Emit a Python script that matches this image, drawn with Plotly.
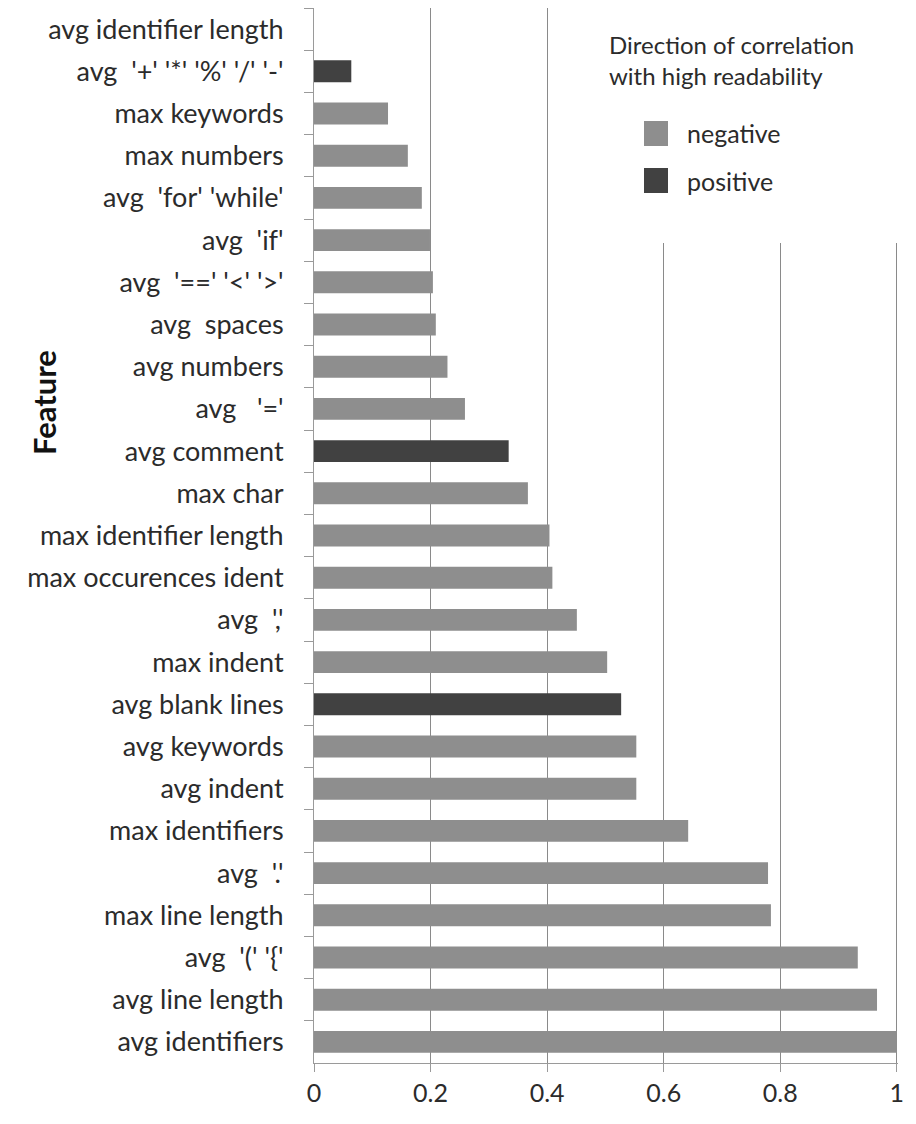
import plotly.graph_objects as go

features = [
    "avg identifier length",
    "avg\u00a0\u00a0'+' '*' '%' '/' '-'",
    "max keywords",
    "max numbers",
    "avg\u00a0\u00a0'for' 'while'",
    "avg\u00a0\u00a0'if'",
    "avg\u00a0\u00a0'==' '<' '>'",
    "avg\u00a0\u00a0spaces",
    "avg numbers",
    "avg\u00a0\u00a0\u00a0'='",
    "avg comment",
    "max char",
    "max identifier length",
    "max occurences ident",
    "avg\u00a0\u00a0','",
    "max indent",
    "avg blank lines",
    "avg keywords",
    "avg indent",
    "max identifiers",
    "avg\u00a0\u00a0'.'",
    "max line length",
    "avg\u00a0\u00a0'(' '{'",
    "avg line length",
    "avg identifiers",
]
values = [0.0, 0.064, 0.127, 0.161, 0.185, 0.199, 0.204, 0.209, 0.229, 0.259,
          0.334, 0.367, 0.404, 0.409, 0.451, 0.503, 0.527, 0.553, 0.553, 0.642,
          0.779, 0.784, 0.933, 0.966, 1.0]
direction = ["negative", "positive", "negative", "negative", "negative", "negative",
             "negative", "negative", "negative", "negative", "positive", "negative",
             "negative", "negative", "negative", "negative", "positive", "negative",
             "negative", "negative", "negative", "negative", "negative", "negative",
             "negative"]
x_ticks = [0, 0.2, 0.4, 0.6, 0.8, 1]
x_ticktext = ["0", "0.2", "0.4", "0.6", "0.8", "1"]

colors = {"negative": "#8e8e8e", "positive": "#414141"}
FONT = "Lato"
TXT = "#2b2b2b"

fig = go.Figure()
fig.add_trace(go.Bar(
    y=features, x=values, orientation="h",
    marker=dict(color=[colors[d] for d in direction], line=dict(width=0)),
    showlegend=False, hoverinfo="x+y",
))

# page has an 8px body margin; figure coordinates are page coordinates minus 8
OFF = 8
W, H = 916 - 2 * OFF, 1124 - 2 * OFF
L, T = 314 - OFF, 8 - OFF
R = W - (898 - OFF)
B = H - (1063 - OFF)
pw, ph = W - L - R, H - T - B
def px(xp):
    return (xp - OFF - L) / pw
def py(yp):
    return (H - B - (yp - OFF)) / ph

shapes = [
    # white box masking gridlines behind the legend
    dict(type="rect", xref="x", yref="paper", x0=0.45, x1=1.05, y0=py(243), y1=1.05,
         fillcolor="white", line=dict(width=0), layer="above"),
    dict(type="rect", xref="paper", yref="paper", x0=px(644), x1=px(668),
         y0=py(146), y1=py(121), fillcolor=colors["negative"], line=dict(width=0)),
    dict(type="rect", xref="paper", yref="paper", x0=px(644), x1=px(668),
         y0=py(193), y1=py(168), fillcolor=colors["positive"], line=dict(width=0)),
]
annotations = [
    dict(text="Direction of correlation<br>with high readability", xref="paper", yref="paper",
         x=px(607), y=py(60), xanchor="left", yanchor="middle", align="left", showarrow=False,
         font=dict(family=FONT, size=24, color=TXT)),
    dict(text="negative", xref="paper", yref="paper", x=px(685), y=py(133),
         xanchor="left", yanchor="middle", showarrow=False,
         font=dict(family=FONT, size=25, color=TXT)),
    dict(text="positive", xref="paper", yref="paper", x=px(685), y=py(181),
         xanchor="left", yanchor="middle", showarrow=False,
         font=dict(family=FONT, size=25, color=TXT)),
    dict(text="<b>Feature</b>", xref="paper", yref="paper", x=px(44), y=py(403),
         xanchor="center", yanchor="middle", textangle=-90, showarrow=False,
         font=dict(family=FONT, size=31, color="#111")),
]

fig.update_layout(
    width=W, height=H,
    margin=dict(l=L, r=R, t=T, b=B, pad=0),
    paper_bgcolor="white", plot_bgcolor="white",
    bargap=0.48,
    shapes=shapes, annotations=annotations,
    font=dict(family=FONT, color=TXT),
)
fig.update_xaxes(
    range=[0, 1.002], tickvals=x_ticks, ticktext=x_ticktext,
    showgrid=True, gridcolor="#8a8a8a", gridwidth=1,
    showline=True, linecolor="#9a9a9a", linewidth=1,
    ticks="outside", ticklen=8, tickcolor="#9a9a9a",
    tickfont=dict(family=FONT, size=25, color=TXT),
    ticklabelstandoff=0, zeroline=False,
)
fig.update_yaxes(
    categoryorder="array", categoryarray=features, autorange="reversed",
    showgrid=False, showline=True, linecolor="#9a9a9a", linewidth=1,
    ticks="outside", ticklen=9, tickcolor="#9a9a9a", tickson="boundaries",
    tickfont=dict(family=FONT, size=27, color=TXT),
    ticklabelstandoff=24,
)

fig.write_html("out.html")
